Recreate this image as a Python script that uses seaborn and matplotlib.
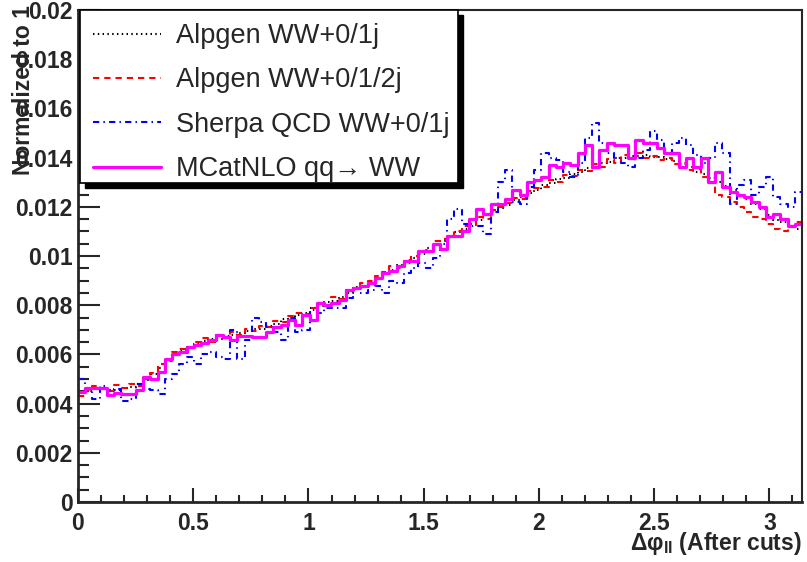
import numpy as np
import seaborn as sns
import matplotlib.pyplot as plt
from matplotlib.ticker import MultipleLocator, AutoMinorLocator, FuncFormatter
from matplotlib.patches import Rectangle
from matplotlib.lines import Line2D

# 100 bins of delta phi_ll between 0 and pi, normalised to 1
nbins = 100
labels = ['Alpgen WW+0/1j', 'Alpgen WW+0/1/2j', 'Sherpa QCD WW+0/1j', 'MCatNLO qq\u2192 WW']

alpgen01 = [
    0.00445, 0.00452, 0.00460, 0.00464, 0.00456, 0.00455, 0.00463, 0.00468, 0.00480, 0.00495,
    0.00522, 0.00545, 0.00578, 0.00602, 0.00612, 0.00632, 0.00643, 0.00655, 0.00662, 0.00663,
    0.00674, 0.00680, 0.00688, 0.00696, 0.00702, 0.00703, 0.00717, 0.00724, 0.00742, 0.00748,
    0.00762, 0.00768, 0.00787, 0.00798, 0.00812, 0.00818, 0.00832, 0.00848, 0.00872, 0.00878,
    0.00897, 0.00908, 0.00932, 0.00943, 0.00962, 0.00973, 0.00992, 0.01008, 0.01032, 0.01043,
    0.01062, 0.01078, 0.01097, 0.01108, 0.01132, 0.01148, 0.01167, 0.01178, 0.01197, 0.01208,
    0.01227, 0.01238, 0.01257, 0.01268, 0.01287, 0.01298, 0.01312, 0.01318, 0.01332, 0.01343,
    0.01357, 0.01363, 0.01377, 0.01383, 0.01397, 0.01398, 0.01407, 0.01408, 0.01412, 0.01403,
    0.01402, 0.01393, 0.01387, 0.01373, 0.01362, 0.01343, 0.01332, 0.01318, 0.01300, 0.01285,
    0.01268, 0.01250, 0.01232, 0.01212, 0.01190, 0.01165, 0.01148, 0.01138, 0.01120, 0.01110,
]

alpgen012 = [
    0.00430, 0.00455, 0.00470, 0.00465, 0.00450, 0.00475, 0.00465, 0.00480, 0.00470, 0.00500,
    0.00525, 0.00560, 0.00575, 0.00610, 0.00620, 0.00625, 0.00650, 0.00665, 0.00650, 0.00680,
    0.00665, 0.00690, 0.00680, 0.00705, 0.00695, 0.00715, 0.00710, 0.00735, 0.00730, 0.00755,
    0.00770, 0.00765, 0.00790, 0.00810, 0.00800, 0.00835, 0.00825, 0.00860, 0.00865, 0.00890,
    0.00900, 0.00920, 0.00935, 0.00960, 0.00950, 0.00985, 0.01000, 0.01020, 0.01025, 0.01060,
    0.01070, 0.01075, 0.01100, 0.01120, 0.01125, 0.01160, 0.01150, 0.01185, 0.01200, 0.01215,
    0.01235, 0.01230, 0.01265, 0.01275, 0.01280, 0.01310, 0.01300, 0.01330, 0.01325, 0.01350,
    0.01345, 0.01375, 0.01360, 0.01395, 0.01380, 0.01410, 0.01395, 0.01420, 0.01400, 0.01405,
    0.01390, 0.01400, 0.01375, 0.01380, 0.01350, 0.01355, 0.01320, 0.01300, 0.01250, 0.01240,
    0.01220, 0.01200, 0.01180, 0.01160, 0.01150, 0.01130, 0.01110, 0.01100, 0.01120, 0.01140,
]

sherpa = [
    0.00500, 0.00460, 0.00420, 0.00470, 0.00450, 0.00460, 0.00410, 0.00420, 0.00480, 0.00460,
    0.00455, 0.00440, 0.00500, 0.00520, 0.00560, 0.00590, 0.00560, 0.00600, 0.00610, 0.00590,
    0.00580, 0.00700, 0.00580, 0.00660, 0.00750, 0.00730, 0.00710, 0.00690, 0.00660, 0.00750,
    0.00690, 0.00700, 0.00780, 0.00770, 0.00790, 0.00790, 0.00790, 0.00830, 0.00870, 0.00850,
    0.00860, 0.00880, 0.00850, 0.00900, 0.00890, 0.00930, 0.00950, 0.00970, 0.00950, 0.00990,
    0.01050, 0.01150, 0.01190, 0.01130, 0.01120, 0.01120, 0.01090, 0.01180, 0.01300, 0.01350,
    0.01220, 0.01210, 0.01280, 0.01350, 0.01420, 0.01400, 0.01390, 0.01340, 0.01320, 0.01380,
    0.01480, 0.01540, 0.01460, 0.01420, 0.01400, 0.01380, 0.01360, 0.01400, 0.01430, 0.01510,
    0.01470, 0.01420, 0.01460, 0.01480, 0.01450, 0.01410, 0.01380, 0.01400, 0.01460, 0.01420,
    0.01210, 0.01290, 0.01310, 0.01250, 0.01280, 0.01320, 0.01240, 0.01210, 0.01200, 0.01260,
]

mcatnlo = [
    0.00448, 0.00463, 0.00463, 0.00463, 0.00435, 0.00444, 0.00440, 0.00440, 0.00455, 0.00510,
    0.00500, 0.00530, 0.00580, 0.00600, 0.00610, 0.00630, 0.00640, 0.00646, 0.00660, 0.00680,
    0.00670, 0.00660, 0.00675, 0.00675, 0.00670, 0.00670, 0.00690, 0.00710, 0.00720, 0.00740,
    0.00720, 0.00760, 0.00740, 0.00810, 0.00800, 0.00810, 0.00820, 0.00860, 0.00870, 0.00880,
    0.00890, 0.00910, 0.00930, 0.00940, 0.00960, 0.00980, 0.00980, 0.01020, 0.01020, 0.01050,
    0.01030, 0.01080, 0.01080, 0.01100, 0.01150, 0.01190, 0.01170, 0.01210, 0.01210, 0.01230,
    0.01270, 0.01250, 0.01300, 0.01310, 0.01320, 0.01370, 0.01360, 0.01380, 0.01370, 0.01420,
    0.01450, 0.01360, 0.01430, 0.01460, 0.01450, 0.01450, 0.01400, 0.01470, 0.01460, 0.01460,
    0.01440, 0.01420, 0.01420, 0.01360, 0.01400, 0.01360, 0.01400, 0.01300, 0.01340, 0.01280,
    0.01260, 0.01250, 0.01240, 0.01220, 0.01200, 0.01160, 0.01170, 0.01150, 0.01120, 0.01130,
]

series = [alpgen01, alpgen012, sherpa, mcatnlo]
colors = ['black', 'red', 'blue', 'magenta']
styles = [(0, (0.7, 1.6)), (0, (3.0, 2.4)), (0, (3.0, 2.0, 0.7, 2.0)), '-']
widths = [1.5, 1.5, 1.5, 2.3]

edges = np.linspace(0, np.pi, nbins + 1)

sns.set_style('ticks')
plt.rcParams['font.family'] = ['Liberation Sans', 'DejaVu Sans']
plt.rcParams['mathtext.fontset'] = 'custom'
plt.rcParams['mathtext.rm'] = 'Liberation Sans'
plt.rcParams['mathtext.bf'] = 'Liberation Sans:bold'

fig = plt.figure(figsize=(8.07, 5.62), dpi=100)
W, H = 807., 562.
ax = fig.add_axes([78 / W, 1 - 502 / H, 724 / W, 492 / H])

for vals, c, ls, lw in zip(series, colors, styles, widths):
    sns.lineplot(x=edges, y=np.append(vals, vals[-1]), ax=ax, color=c,
                 linestyle=ls, lw=lw, drawstyle='steps-post',
                 estimator=None, errorbar=None)

ax.set_xlim(0, np.pi)
ax.set_ylim(0, 0.02)
ax.grid(False)

# ROOT like ticks
ax.xaxis.set_major_locator(MultipleLocator(0.5))
ax.xaxis.set_minor_locator(AutoMinorLocator(5))
ax.yaxis.set_major_locator(MultipleLocator(0.002))
ax.yaxis.set_minor_locator(AutoMinorLocator(4))
fmt = FuncFormatter(lambda v, p: '%g' % round(v, 5))
ax.xaxis.set_major_formatter(fmt)
ax.yaxis.set_major_formatter(fmt)
ax.tick_params(axis='both', which='both', direction='in', width=1.5,
               top=False, right=False, labelsize=16.5)
ax.tick_params(axis='y', which='major', length=16, pad=4)
ax.tick_params(axis='y', which='minor', length=8)
ax.tick_params(axis='x', which='major', length=10, pad=7)
ax.tick_params(axis='x', which='minor', length=5)
for lab in ax.get_xticklabels() + ax.get_yticklabels():
    lab.set_fontweight('bold')
for s in ['left', 'bottom']:
    ax.spines[s].set_linewidth(2)
for s in ['top', 'right']:
    ax.spines[s].set_linewidth(1.5)

ax.set_xlabel('\u0394\u03c6$_{\\mathbf{ll}}$ (After cuts)', fontsize=16.5,
              fontweight='bold', loc='right')
ax.xaxis.set_label_coords(1.0, -0.056)
ax.set_ylabel('Normalized to 1', fontsize=16.5, fontweight='bold', loc='top')
ax.yaxis.set_label_coords(-0.06, 1.01)

# legend with solid black shadow like ROOT
def fx(px):
    return (px - 78) / 724.

def fy(py):
    return (502 - py) / 492.

ax.add_patch(Rectangle((fx(85), fy(188)), fx(463) - fx(85), fy(15) - fy(188),
                       transform=ax.transAxes, facecolor='black',
                       edgecolor='black', clip_on=False, zorder=6))
ax.add_patch(Rectangle((fx(80), fy(183)), fx(458) - fx(80), fy(10) - fy(183),
                       transform=ax.transAxes, facecolor='white',
                       edgecolor='black', lw=1.2, clip_on=False, zorder=7))

handles = [Line2D([], [], color=c, linestyle=ls, lw=lw)
           for c, ls, lw in zip(colors, styles, widths)]
leg = ax.legend(handles, labels, loc='upper left',
                bbox_to_anchor=(fx(93), fy(23)), frameon=False,
                fontsize=19.5, handlelength=2.5, handletextpad=0.55,
                labelspacing=0.68, borderpad=0, borderaxespad=0)
leg.set_zorder(10)

fig.savefig('out.png', dpi=100)
